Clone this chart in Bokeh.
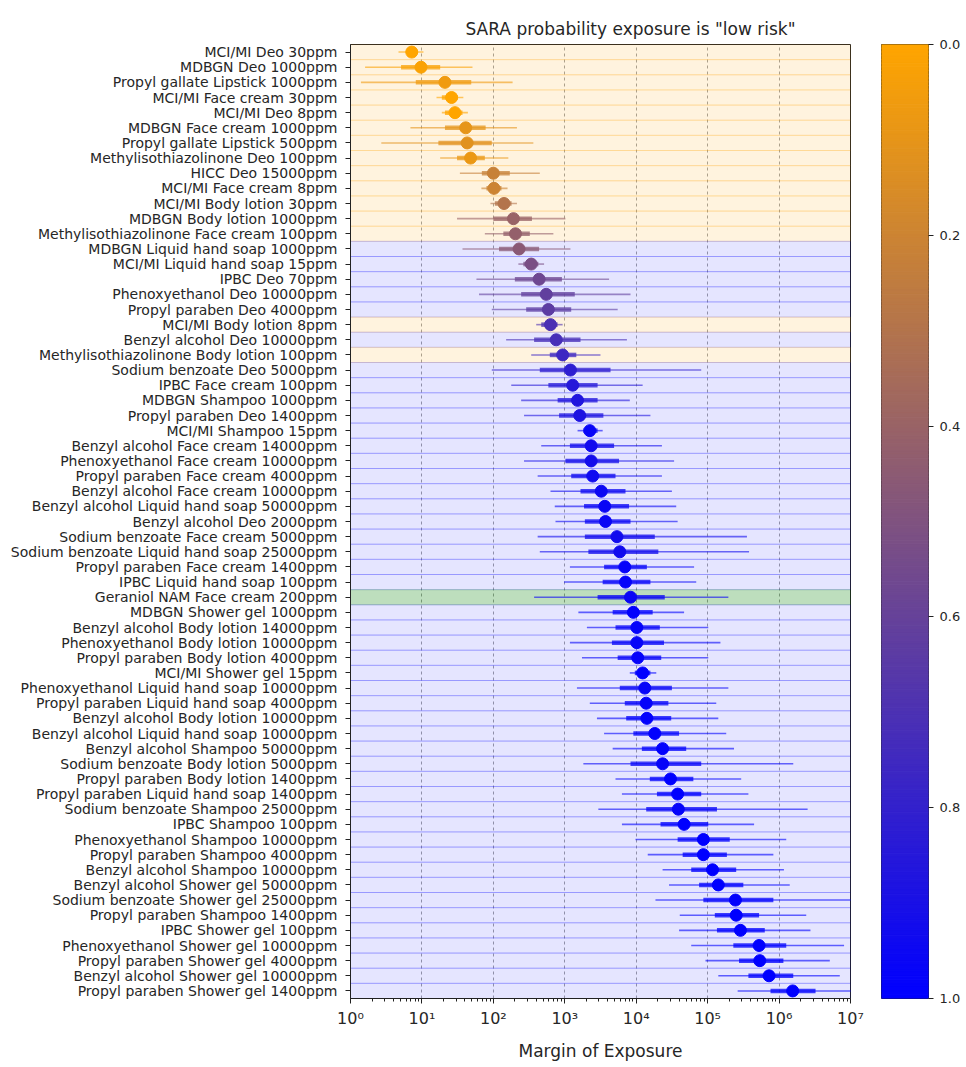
import numpy as np
from bokeh.plotting import figure
from bokeh.models import FactorRange, Range1d, FixedTicker, ColumnDataSource, NumeralTickFormatter
from bokeh.transform import linear_cmap
from bokeh.layouts import row
from bokeh.embed import file_html
from bokeh.resources import INLINE

# ---------------- data ----------------
labels = [
    "MCI/MI Deo 30ppm", "MDBGN Deo 1000ppm", "Propyl gallate Lipstick 1000ppm",
    "MCI/MI Face cream 30ppm", "MCI/MI Deo 8ppm", "MDBGN Face cream 1000ppm",
    "Propyl gallate Lipstick 500ppm", "Methylisothiazolinone Deo 100ppm", "HICC Deo 15000ppm",
    "MCI/MI Face cream 8ppm", "MCI/MI Body lotion 30ppm", "MDBGN Body lotion 1000ppm",
    "Methylisothiazolinone Face cream 100ppm", "MDBGN Liquid hand soap 1000ppm",
    "MCI/MI Liquid hand soap 15ppm", "IPBC Deo 70ppm", "Phenoxyethanol Deo 10000ppm",
    "Propyl paraben Deo 4000ppm", "MCI/MI Body lotion 8ppm", "Benzyl alcohol Deo 10000ppm",
    "Methylisothiazolinone Body lotion 100ppm", "Sodium benzoate Deo 5000ppm",
    "IPBC Face cream 100ppm", "MDBGN Shampoo 1000ppm", "Propyl paraben Deo 1400ppm",
    "MCI/MI Shampoo 15ppm", "Benzyl alcohol Face cream 14000ppm",
    "Phenoxyethanol Face cream 10000ppm", "Propyl paraben Face cream 4000ppm",
    "Benzyl alcohol Face cream 10000ppm", "Benzyl alcohol Liquid hand soap 50000ppm",
    "Benzyl alcohol Deo 2000ppm", "Sodium benzoate Face cream 5000ppm",
    "Sodium benzoate Liquid hand soap 25000ppm", "Propyl paraben Face cream 1400ppm",
    "IPBC Liquid hand soap 100ppm", "Geraniol NAM Face cream 200ppm",
    "MDBGN Shower gel 1000ppm", "Benzyl alcohol Body lotion 14000ppm",
    "Phenoxyethanol Body lotion 10000ppm", "Propyl paraben Body lotion 4000ppm",
    "MCI/MI Shower gel 15ppm", "Phenoxyethanol Liquid hand soap 10000ppm",
    "Propyl paraben Liquid hand soap 4000ppm", "Benzyl alcohol Body lotion 10000ppm",
    "Benzyl alcohol Liquid hand soap 10000ppm", "Benzyl alcohol Shampoo 50000ppm",
    "Sodium benzoate Body lotion 5000ppm", "Propyl paraben Body lotion 1400ppm",
    "Propyl paraben Liquid hand soap 1400ppm", "Sodium benzoate Shampoo 25000ppm",
    "IPBC Shampoo 100ppm", "Phenoxyethanol Shampoo 10000ppm",
    "Propyl paraben Shampoo 4000ppm", "Benzyl alcohol Shampoo 10000ppm",
    "Benzyl alcohol Shower gel 50000ppm", "Sodium benzoate Shower gel 25000ppm",
    "Propyl paraben Shampoo 1400ppm", "IPBC Shower gel 100ppm",
    "Phenoxyethanol Shower gel 10000ppm", "Propyl paraben Shower gel 4000ppm",
    "Benzyl alcohol Shower gel 10000ppm", "Propyl paraben Shower gel 1400ppm",
]

moe_low = [4.7, 1.6, 1.4, 16, 19, 6.9, 2.7, 18, 34, 68, 91, 31, 76, 37, 224, 58, 63, 95, 398, 151,
           339, 95, 178, 245, 269, 1510, 468, 269, 417, 631, 724, 741, 417, 447, 1180, 977, 372,
           1550, 2040, 1180, 1740, 8130, 1480, 2240, 2820, 3550, 4680, 1820, 5130, 6310, 2950,
           6310, 9770, 14500, 23400, 28800, 18600, 40700, 39800, 58900, 93300, 141000, 263000]
moe_q1 = [6.2, 5.1, 8.2, 19, 21, 21, 17, 31, 69, 80, 105, 100, 138, 120, 263, 200, 245, 288, 468,
          372, 617, 447, 589, 794, 832, 1820, 1180, 1020, 1230, 1660, 1860, 1910, 1910, 2140, 3550,
          3390, 2880, 4680, 5130, 4570, 5500, 9550, 5890, 6920, 7240, 9120, 12000, 8320, 15500,
          19500, 13800, 21900, 38000, 44700, 58900, 75900, 87100, 126000, 135000, 229000, 275000,
          372000, 759000]
moe_median = [7.2, 9.7, 21, 26, 29, 41, 43, 48, 100, 102, 141, 191, 204, 229, 339, 437, 550, 589,
              631, 759, 933, 1200, 1290, 1510, 1620, 2240, 2340, 2340, 2460, 3240, 3630, 3720, 5370,
              5890, 6920, 7080, 8320, 9120, 10200, 10200, 10500, 12300, 13200, 13800, 14100, 18200,
              23400, 23400, 30200, 38000, 38900, 46800, 87100, 87100, 117000, 141000, 245000,
              251000, 288000, 525000, 537000, 724000, 1550000]
moe_q3 = [8.8, 18, 49, 32, 37, 78, 95, 76, 170, 130, 180, 347, 324, 437, 427, 912, 1380, 1230, 794,
          1660, 1450, 4370, 2880, 2880, 3470, 2880, 4900, 5750, 5130, 7080, 7940, 8320, 18200,
          20400, 14100, 15800, 25100, 17000, 21400, 24500, 22400, 15800, 31600, 28200, 30900,
          39800, 50100, 81300, 63100, 81300, 135000, 102000, 204000, 186000, 251000, 316000,
          832000, 525000, 631000, 1260000, 1150000, 1580000, 3240000]
moe_high = [10.5, 51, 186, 38, 44, 214, 363, 162, 447, 158, 214, 1020, 692, 1200, 513, 4170, 8320,
            5500, 933, 7410, 3160, 81300, 12300, 8130, 15800, 3390, 22900, 33900, 22900, 31600,
            36300, 38000, 355000, 380000, 64600, 69200, 195000, 46800, 102000, 151000, 102000,
            19100, 195000, 132000, 141000, 182000, 234000, 1580000, 295000, 372000, 2510000,
            447000, 1260000, 832000, 1170000, 1410000, 15000000, 2400000, 2750000, 8130000,
            5130000, 7080000, 15000000]
prob_low_risk = [0.0, 0.02, 0.06, 0.0, 0.0, 0.1, 0.12, 0.08, 0.22, 0.2, 0.3, 0.4, 0.42, 0.46, 0.52,
                 0.57, 0.62, 0.64, 0.7, 0.72, 0.76, 0.82, 0.85, 0.87, 0.88, 0.97, 0.93, 0.92, 0.94,
                 0.95, 0.96, 0.96, 0.93, 0.93, 0.98, 0.98, 0.96, 0.99, 0.98, 0.97, 0.98, 1.0, 0.97,
                 0.98, 0.99, 0.99, 0.99, 0.97, 1.0, 1.0, 0.98, 1.0, 1.0, 1.0, 1.0, 1.0, 0.99, 1.0,
                 1.0, 1.0, 1.0, 1.0, 1.0]
band_group = (["amber"] * 13 + ["blue"] * 5 + ["amber", "blue", "amber"] + ["blue"] * 15
              + ["green"] + ["blue"] * 26)

title_text = 'SARA probability exposure is "low risk"'
x_label = "Margin of Exposure"
cbar_ticks = [0.0, 0.2, 0.4, 0.6, 0.8, 1.0]

# ---------------- colours ----------------
c0 = np.array([255, 165, 0])
c1 = np.array([0, 0, 255])
palette = ["#%02x%02x%02x" % tuple(int(round(v)) for v in (c0 + (c1 - c0) * t))
           for t in np.linspace(0, 1, 256)]
band_fill = {"amber": "#FFA500", "blue": "#0000FF", "green": "#008000"}
band_alpha = {"amber": 0.13, "blue": 0.10, "green": 0.26}

src = ColumnDataSource(dict(
    label=labels, lo=moe_low, q1=moe_q1, med=moe_median, q3=moe_q3, hi=moe_high,
    prob=prob_low_risk,
    bfill=[band_fill[b] for b in band_group],
    balpha=[band_alpha[b] for b in band_group],
    left=[1.0] * len(labels), right=[1e7] * len(labels),
))

FONT = "DejaVu Sans"
TXT = "#262626"

p = figure(width=881, height=1065, output_backend="svg", toolbar_location=None,
           x_axis_type="log", x_range=Range1d(1, 1e7),
           y_range=FactorRange(factors=list(reversed(labels))),
           min_border_left=350, min_border_right=31, min_border_top=44, min_border_bottom=64)

p.title.text = title_text
p.title.align = "left"
p.title.offset = 115
p.title.standoff = 12
p.title.text_font = FONT
p.title.text_font_size = "17px"
p.title.text_font_style = "normal"
p.title.text_color = TXT

# background bands
p.hbar(y="label", height=1.0, left="left", right="right", source=src,
       fill_color="bfill", fill_alpha="balpha", line_color="bfill", line_alpha=0.18, line_width=1)

cmap = linear_cmap("prob", palette, 0, 1)
p.segment(x0="lo", x1="hi", y0="label", y1="label", source=src,
          line_color=cmap, line_width=1.6, line_alpha=0.6)
p.segment(x0="q1", x1="q3", y0="label", y1="label", source=src,
          line_color=cmap, line_width=4.5, line_alpha=0.75)
p.scatter(x="med", y="label", source=src, size=12, fill_color=cmap, line_color=cmap)

p.ygrid.visible = False
p.xgrid.grid_line_color = "#777777"
p.xgrid.grid_line_alpha = 0.7
p.xgrid.grid_line_dash = "3 3"
p.xgrid.grid_line_width = 1

decades = [10.0 ** k for k in range(8)]
minors = [m * 10.0 ** k for k in range(7) for m in range(2, 10)]
p.xaxis.ticker = FixedTicker(ticks=decades, minor_ticks=minors)
p.xaxis.major_label_overrides = {d: "10" + "⁰¹²³⁴⁵⁶⁷"[k] for k, d in enumerate(decades)}
p.xaxis.axis_label = x_label
p.xaxis.axis_label_text_font = FONT
p.xaxis.axis_label_text_font_size = "17px"
p.xaxis.axis_label_text_font_style = "normal"
p.xaxis.axis_label_text_color = TXT
p.xaxis.axis_label_standoff = 10
p.xaxis.major_label_text_font = FONT
p.xaxis.major_label_text_font_size = "16px"
p.xaxis.major_label_text_color = TXT
p.xaxis.major_label_standoff = 5
p.xaxis.major_tick_out = 5
p.xaxis.major_tick_in = 0
p.xaxis.minor_tick_out = 3
p.xaxis.minor_tick_in = 0

p.yaxis.major_label_text_font = FONT
p.yaxis.major_label_text_font_size = "14px"
p.yaxis.major_label_text_color = TXT
p.yaxis.major_label_standoff = 8
p.yaxis.major_tick_out = 5
p.yaxis.major_tick_in = 0

for ax in (p.xaxis, p.yaxis):
    ax.axis_line_color = "#222222"
    ax.major_tick_line_color = "#222222"
    ax.minor_tick_line_color = "#222222"

p.outline_line_color = "#222222"
p.outline_line_width = 1
p.outline_line_alpha = 1
p.background_fill_color = "white"

# ---------------- colour bar ----------------
edges = np.linspace(0, 1, 257)
cb = figure(width=83, height=1065, output_backend="svg", toolbar_location=None,
            x_range=Range1d(0, 1), y_range=Range1d(1, 0), y_axis_location="right",
            min_border_left=0, min_border_right=36, min_border_top=44, min_border_bottom=67)
cb.quad(left=0, right=1, bottom=edges[:-1], top=edges[1:], fill_color=palette, line_color=palette)
cb.xaxis.visible = False
cb.grid.visible = False
cb.yaxis.ticker = FixedTicker(ticks=cbar_ticks, minor_ticks=[])
cb.yaxis.formatter = NumeralTickFormatter(format="0.0")
cb.yaxis.major_label_text_font = FONT
cb.yaxis.major_label_text_font_size = "13px"
cb.yaxis.major_label_text_color = TXT
cb.yaxis.major_tick_out = 5
cb.yaxis.major_tick_in = 0
cb.yaxis.major_label_standoff = 6
cb.yaxis.axis_line_color = None
cb.yaxis.major_tick_line_color = "#222222"
cb.outline_line_color = "#222222"
cb.outline_line_alpha = 1

layout = row(p, cb)
open("out.html", "w").write(file_html(layout, INLINE))
